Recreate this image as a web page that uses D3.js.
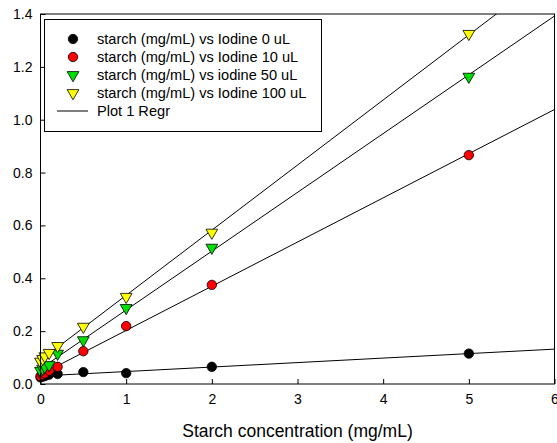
<!DOCTYPE html>
<html>
<head>
<meta charset="utf-8">
<script src="https://cdn.jsdelivr.net/npm/d3@7"></script>
<style>
  body { margin: 0; background: #fff; }
  text { font-family: "Liberation Sans", Arial, sans-serif; }
</style>
</head>
<body>
<svg width="557" height="443"></svg>
<script>
// data
var conc = [0, 0.025, 0.05, 0.1, 0.2, 0.5, 1, 2, 5];
var iodine0   = [0.025, 0.028, 0.030, 0.035, 0.038, 0.045, 0.041, 0.065, 0.115];
var iodine10  = [0.030, 0.035, 0.040, 0.050, 0.065, 0.124, 0.219, 0.375, 0.866];
var iodine50  = [0.050, 0.058, 0.065, 0.072, 0.115, 0.166, 0.288, 0.516, 1.163];
var iodine100 = [0.085, 0.095, 0.105, 0.118, 0.144, 0.217, 0.330, 0.573, 1.325];
var seriesNames = ["starch (mg/mL) vs Iodine 0 uL", "starch (mg/mL) vs Iodine 10 uL",
                   "starch (mg/mL) vs iodine 50 uL", "starch (mg/mL) vs Iodine 100 uL"];
var xTicks = [0, 1, 2, 3, 4, 5, 6];
var yTicks = [0, 0.2, 0.4, 0.6, 0.8, 1.0, 1.2, 1.4];

var series = [
  {name: seriesNames[0], values: iodine0, color: "#000000", shape: "circle"},
  {name: seriesNames[1], values: iodine10, color: "#ff0000", shape: "circle"},
  {name: seriesNames[2], values: iodine50, color: "#00e000", shape: "tri"},
  {name: seriesNames[3], values: iodine100, color: "#ffff00", shape: "tri"}
];

var svg = d3.select("svg");
var pLeft = 40.5, pRight = 554.5, pTop = 14, pBottom = 384;

var x = d3.scaleLinear().domain([0, 6]).range([pLeft, pRight]);
var y = d3.scaleLinear().domain([0, 1.4]).range([pBottom, pTop]);

// least squares fit for each series
function fit(xs, ys) {
  var mx = d3.mean(xs), my = d3.mean(ys);
  var sxy = d3.sum(xs, function (v, i) { return (v - mx) * (ys[i] - my); });
  var sxx = d3.sum(xs, function (v) { return (v - mx) * (v - mx); });
  var b = sxy / sxx;
  return {b: b, a: my - b * mx};
}

svg.append("defs").append("clipPath").attr("id", "clip")
  .append("rect").attr("x", pLeft).attr("y", pTop)
  .attr("width", pRight - pLeft).attr("height", pBottom - pTop);

// regression lines
var lineG = svg.append("g").attr("clip-path", "url(#clip)");
series.forEach(function (s) {
  var f = fit(conc, s.values);
  lineG.append("line")
    .attr("x1", x(0)).attr("y1", y(f.a))
    .attr("x2", x(6)).attr("y2", y(f.a + f.b * 6))
    .attr("stroke", "#000").attr("stroke-width", 1);
});

var tri = d3.symbol().type(d3.symbolTriangle).size(60);

function drawMarker(g, s, cx, cy) {
  if (s.shape === "circle") {
    g.append("circle").attr("cx", cx).attr("cy", cy).attr("r", 4.7)
      .attr("fill", s.color).attr("stroke", "#000").attr("stroke-width", 0.8);
  } else {
    g.append("path").attr("d", tri)
      .attr("transform", "translate(" + cx + "," + cy + ") rotate(180)")
      .attr("fill", s.color).attr("stroke", "#000").attr("stroke-width", 0.8);
  }
}

// points
var ptG = svg.append("g");
series.forEach(function (s) {
  s.values.forEach(function (v, i) {
    drawMarker(ptG, s, x(conc[i]), y(v));
  });
});

// frame
svg.append("rect").attr("x", pLeft).attr("y", pTop)
  .attr("width", pRight - pLeft).attr("height", pBottom - pTop)
  .attr("fill", "none").attr("stroke", "#000").attr("stroke-width", 1);

// axes with inward ticks
var xAxis = svg.append("g").attr("transform", "translate(0," + pBottom + ")")
  .call(d3.axisBottom(x).tickValues(xTicks).tickSize(-5).tickPadding(10)
    .tickFormat(d3.format("d")));
var yAxis = svg.append("g").attr("transform", "translate(" + pLeft + ",0)")
  .call(d3.axisLeft(y).tickValues(yTicks).tickSize(-5).tickPadding(8)
    .tickFormat(d3.format(".1f")));
[xAxis, yAxis].forEach(function (a) {
  a.select(".domain").remove();
  a.selectAll("text").attr("font-size", 14).attr("fill", "#000")
    .style("font-family", "'Liberation Sans', Arial, sans-serif");
  a.selectAll("line").attr("stroke", "#000");
});

svg.append("text").attr("x", (pLeft + pRight) / 2).attr("y", 437)
  .attr("text-anchor", "middle").attr("font-size", 17.5)
  .text("Starch concentration (mg/mL)");

// legend
var leg = svg.append("g");
leg.append("rect").attr("x", 44.5).attr("y", 19.5).attr("width", 277).attr("height", 112)
  .attr("fill", "#fff").attr("stroke", "#000").attr("stroke-width", 1);
series.forEach(function (s, i) {
  var ly = 39 + i * 18;
  drawMarker(leg, s, 73, ly);
  leg.append("text").attr("x", 97).attr("y", ly + 5).attr("font-size", 14.6).text(s.name);
});
leg.append("line").attr("x1", 57).attr("x2", 88).attr("y1", 111).attr("y2", 111)
  .attr("stroke", "#000");
leg.append("text").attr("x", 97).attr("y", 116).attr("font-size", 14.6).text("Plot 1 Regr");
</script>
</body>
</html>
